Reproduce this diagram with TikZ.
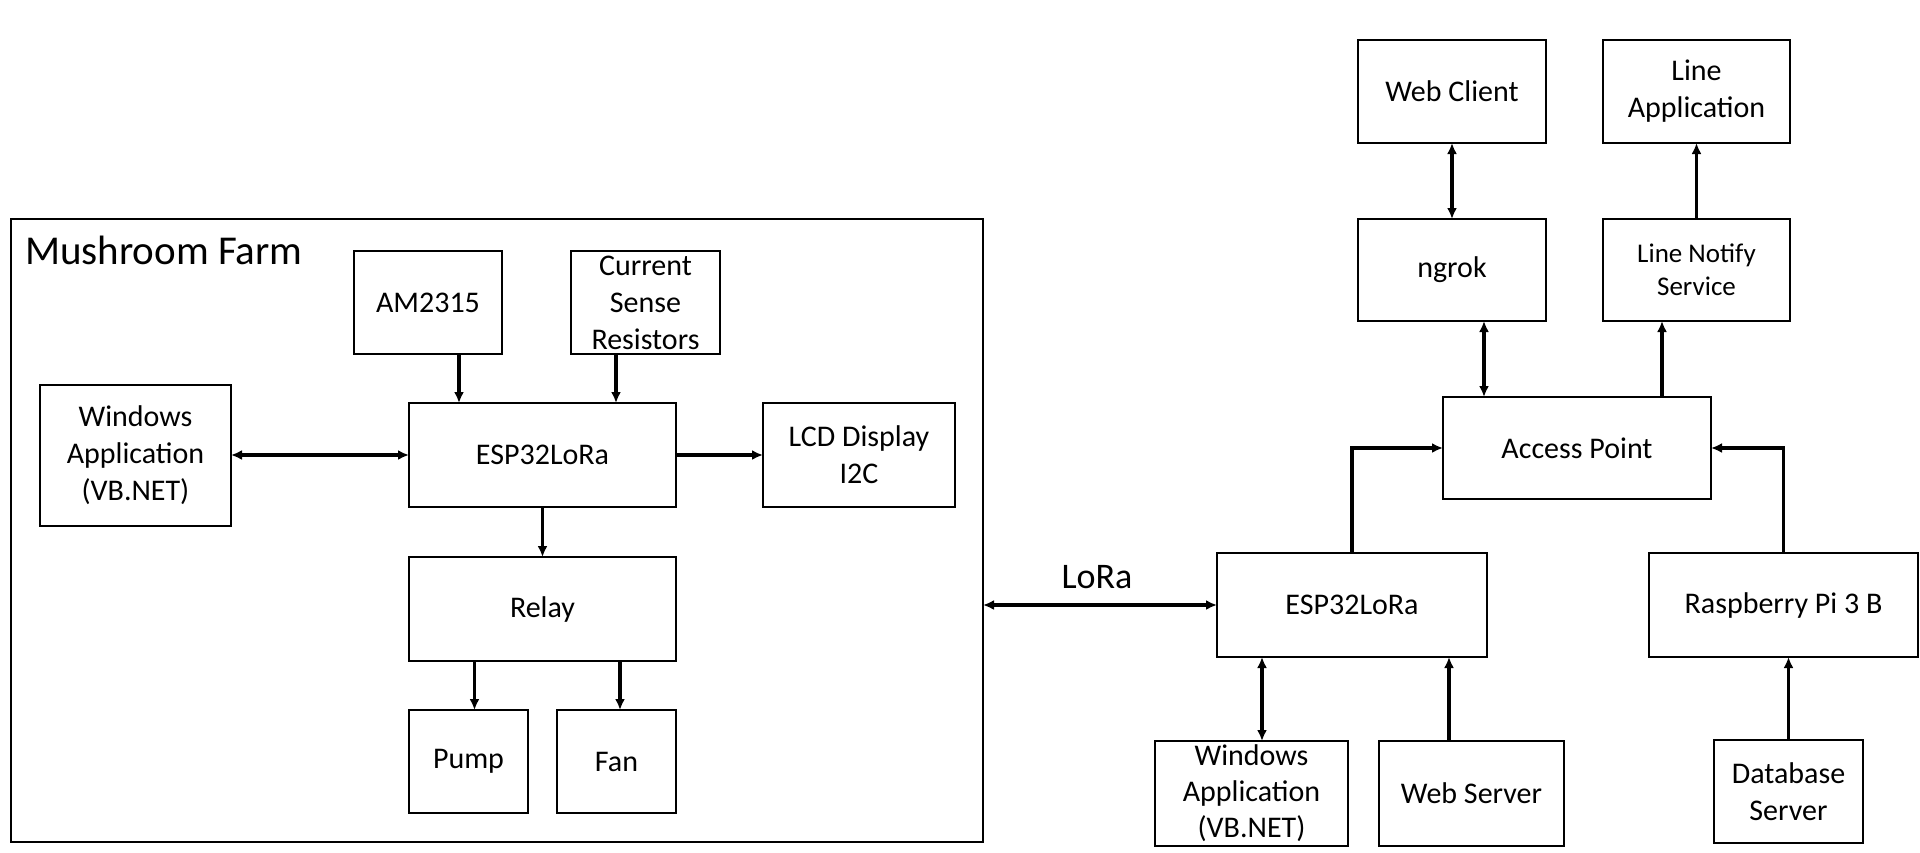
\documentclass[tikz,border=0pt]{standalone}
\usepackage{fontspec}
\setmainfont{Carlito}
\usetikzlibrary{arrows.meta}
\begin{document}
\begin{tikzpicture}[x=1pt,y=-1pt,
  box/.style={draw=black,line width=2.3pt,rectangle,inner sep=0pt,outer sep=0pt,align=center,
    font=\fontsize{30}{37}\selectfont},
  arr/.style={line width=3.2pt,-{Latex[length=11pt,width=10pt]}},
  barr/.style={line width=3.2pt,{Latex[length=11pt,width=10pt]}-{Latex[length=11pt,width=10pt]}}]
\useasboundingbox[fill=white] (0,0) rectangle (1920,852);
% Mushroom farm frame
\node[box,minimum width=972pt,minimum height=623pt] (farm) at (497,530.5) {};
\node[anchor=base west,inner sep=0pt,font=\fontsize{41}{48}\selectfont] (title) at (25,264) {Mushroom Farm};
\node[box,minimum width=148pt,minimum height=103pt] (am) at (428,302.5) {AM2315};
\node[box,minimum width=149pt,minimum height=103pt] (csr) at (645.5,302.5) {Current\\Sense\\Resistors};
\node[box,minimum width=191pt,minimum height=141pt] (win1) at (135.5,455.5) {Windows\\Application\\(VB.NET)};
\node[box,minimum width=267pt,minimum height=104pt] (esp1) at (542.5,455) {ESP32LoRa};
\node[box,minimum width=192pt,minimum height=104pt] (lcd) at (859,455) {LCD Display\\I2C};
\node[box,minimum width=267pt,minimum height=104pt] (relay) at (542.5,609) {Relay};
\node[box,minimum width=119pt,minimum height=103pt] (pump) at (468.5,761.5) {Pump};
\node[box,minimum width=119pt,minimum height=103pt] (fan) at (616.5,761.5) {Fan};
% right side
\node[box,minimum width=188pt,minimum height=103pt] (wc) at (1452,91.5) {Web Client};
\node[box,minimum width=187pt,minimum height=103pt] (la) at (1696.5,91.5) {Line\\Application};
\node[box,minimum width=188pt,minimum height=102pt] (ngrok) at (1452,270) {ngrok};
\node[box,minimum width=187pt,minimum height=102pt,font=\fontsize{27}{33}\selectfont] (lns) at (1696.5,270) {Line Notify\\Service};
\node[box,minimum width=268pt,minimum height=102pt] (ap) at (1577,448) {Access Point};
\node[box,minimum width=270pt,minimum height=104pt] (esp2) at (1352,605) {ESP32LoRa};
\node[box,minimum width=269pt,minimum height=104pt] (rpi) at (1783.5,605) {Raspberry Pi 3 B};
\node[box,minimum width=193pt,minimum height=105pt,font=\fontsize{30}{36}\selectfont] (win2) at (1251.5,793.5) {Windows\\Application\\(VB.NET)};
\node[box,minimum width=185pt,minimum height=105pt] (ws) at (1471.5,793.5) {Web Server};
\node[box,minimum width=149pt,minimum height=103pt] (db) at (1788.5,791.5) {Database\\Server};
\node[inner sep=0pt,font=\fontsize{36}{42}\selectfont] (loralbl) at (1097,577) {LoRa};
% connectors left
\draw[arr] ([xshift=31pt]am.south) -- ([xshift=31pt]am.south |- esp1.north);
\draw[arr] ([xshift=-29.5pt]csr.south) -- ([xshift=-29.5pt]csr.south |- esp1.north);
\draw[barr] (win1.east |- esp1.west) -- (esp1.west);
\draw[arr] (esp1.east) -- (lcd.west);
\draw[arr] (esp1.south) -- (relay.north);
\draw[arr] ([xshift=-68pt]relay.south) -- ([xshift=-68pt]relay.south |- pump.north);
\draw[arr] ([xshift=77.5pt]relay.south) -- ([xshift=77.5pt]relay.south |- fan.north);
% LoRa link
\draw[barr] (farm.east |- esp2.west) -- (esp2.west);
% right connectors
\draw[arr] (esp2.north) |- (ap.west);
\draw[arr] (rpi.north) |- (ap.east);
\draw[arr] ([xshift=85pt]ap.north) -- ([xshift=85pt]ap.north |- lns.south);
\draw[barr] ([xshift=32pt]ngrok.south) -- ([xshift=32pt]ngrok.south |- ap.north);
\draw[barr] (wc.south) -- (ngrok.north);
\draw[arr] (lns.north) -- (la.south);
\draw[barr] ([xshift=10.5pt]win2.north) -- ([xshift=10.5pt]win2.north |- esp2.south);
\draw[arr] ([xshift=-22.5pt]ws.north) -- ([xshift=-22.5pt]ws.north |- esp2.south);
\draw[arr] (db.north) -- (db.north |- rpi.south);
\end{tikzpicture}
\end{document}
